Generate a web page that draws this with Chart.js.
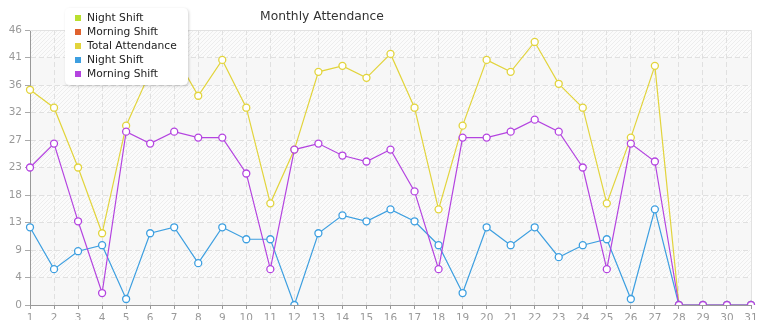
<!DOCTYPE html>
<html><head><meta charset="utf-8">
<script src="https://cdn.jsdelivr.net/npm/chart.js@4/dist/chart.umd.min.js"></script>
<style>html,body{margin:0;padding:0;background:#fff}#wrap{width:765px;height:320px;position:relative;overflow:hidden}</style>
</head><body><div id="wrap"><canvas id="c" width="765" height="320"></canvas></div>
<script>
const days = ['1','2','3','4','5','6','7','8','9','10','11','12','13','14','15','16','17','18','19','20','21','22','23','24','25','26','27','28','29','30','31'];
const nightShift = [13,6,9,10,1,12,13,7,13,11,11,0,12,15,14,16,14,10,2,13,10,13,8,10,11,1,16,0,0,0,0];
const morningShift = [23,27,14,2,29,27,29,28,28,22,6,26,27,25,24,26,19,6,28,28,29,31,29,23,6,27,24,0,0,0,0];
const totalAttendance = [36,33,23,12,30,39,42,35,41,33,17,26,39,40,38,42,33,16,30,41,39,44,37,33,17,28,40,0,0,0,0];
const yTickLabels = ['0','4','9','13','18','23','27','32','36','41','46'];
const chartTitle = 'Monthly Attendance';

const FONT = '"DejaVu Sans", Verdana, sans-serif';

function makeHatch(ctx){
  const p = document.createElement('canvas');
  p.width = 4; p.height = 4;
  const g = p.getContext('2d');
  g.fillStyle = '#fbfbfb'; g.fillRect(0,0,4,4);
  g.strokeStyle = '#ededed'; g.lineWidth = 1;
  g.beginPath(); g.moveTo(-1,5); g.lineTo(5,-1); g.stroke();
  g.beginPath(); g.moveTo(-1,1); g.lineTo(1,-1); g.stroke();
  g.beginPath(); g.moveTo(3,5); g.lineTo(5,3); g.stroke();
  return ctx.createPattern(p,'repeat');
}

const bgPlugin = {
  id:'bg',
  beforeDraw(chart){
    const {ctx, chartArea:a, scales:{y}} = chart;
    const hatch = makeHatch(ctx);
    const ticks = y.ticks;
    ctx.save();
    for(let i=0;i<ticks.length-1;i++){
      const y0 = y.getPixelForValue(ticks[i].value);
      const y1 = y.getPixelForValue(ticks[i+1].value);
      ctx.fillStyle = (i%2===1) ? hatch : '#f7f7f7';
      ctx.fillRect(a.left, y1, a.right-a.left, y0-y1);
    }
    ctx.restore();
  },
  beforeDatasetsDraw(chart){
    const {ctx, chartArea:a} = chart;
    ctx.save();
    ctx.strokeStyle = '#e2e2e2'; ctx.lineWidth = 1;
    ctx.beginPath();
    ctx.moveTo(a.left, a.top+0.5); ctx.lineTo(a.right+0.5, a.top+0.5); ctx.lineTo(a.right+0.5, a.bottom);
    ctx.stroke();
    ctx.restore();
  },
  afterDraw(chart){
    const ctx = chart.ctx;
    ctx.save();
    ctx.fillStyle = '#333';
    ctx.font = '12.3px ' + FONT;
    ctx.textAlign = 'center'; ctx.textBaseline = 'middle';
    ctx.fillText(chartTitle, 322, 17);
    const bx=65, by=8, bw=123, bh=77, r=5;
    ctx.shadowColor = 'rgba(0,0,0,0.18)'; ctx.shadowBlur = 3; ctx.shadowOffsetX = 1; ctx.shadowOffsetY = 1;
    ctx.fillStyle = '#fff';
    ctx.beginPath();
    ctx.moveTo(bx+r,by); ctx.lineTo(bx+bw-r,by); ctx.quadraticCurveTo(bx+bw,by,bx+bw,by+r);
    ctx.lineTo(bx+bw,by+bh-r); ctx.quadraticCurveTo(bx+bw,by+bh,bx+bw-r,by+bh);
    ctx.lineTo(bx+r,by+bh); ctx.quadraticCurveTo(bx,by+bh,bx,by+bh-r);
    ctx.lineTo(bx,by+r); ctx.quadraticCurveTo(bx,by,bx+r,by); ctx.closePath();
    ctx.fill();
    ctx.shadowColor = 'transparent'; ctx.shadowBlur = 0; ctx.shadowOffsetX = 0; ctx.shadowOffsetY = 0;
    ctx.font = '10.7px ' + FONT;
    ctx.textAlign = 'left'; ctx.textBaseline = 'middle';
    chart.data.datasets.forEach((ds,i)=>{
      const cy = 18 + i*14;
      ctx.fillStyle = ds.legendColor;
      ctx.fillRect(75, cy-3, 6, 6);
      ctx.fillStyle = '#222';
      ctx.fillText(ds.label, 87, cy);
    });
    ctx.restore();
  }
};

const lineDs = (label, data, color, order) => ({
  label, data, legendColor: color, order,
  borderColor: color, backgroundColor: color,
  borderWidth: 1.2, tension: 0,
  pointRadius: 3.5, pointHoverRadius: 3.5,
  pointBackgroundColor: '#fff', pointBorderColor: color, pointBorderWidth: 1.3,
  fill: false
});

new Chart(document.getElementById('c'), {
  type: 'line',
  data: {
    labels: days,
    datasets: [
      lineDs('Night Shift', [], '#b9df2e', 4),
      lineDs('Morning Shift', [], '#e0622e', 3),
      lineDs('Total Attendance', totalAttendance, '#e2d43c', 2),
      lineDs('Night Shift', nightShift, '#3d9fe0', 1),
      lineDs('Morning Shift', morningShift, '#b444e0', 0)
    ]
  },
  options: {
    responsive: false, animation: false, devicePixelRatio: 1,
    layout: { padding: { top: 30, right: 14, left: 0, bottom: 0 } },
    plugins: { legend: { display: false }, title: { display: false }, tooltip: { enabled: false } },
    scales: {
      x: {
        offset: false,
        grid: {
          color: (c) => (c.index === 0 || c.index === days.length-1) ? 'rgba(0,0,0,0)' : '#e0e0e0',
          lineWidth: 1, tickLength: 4, tickColor: '#999', drawOnChartArea: true
        },
        border: { display: true, color: '#999', width: 1, dash: [5,3] },
        ticks: { color: '#999', font: { family: FONT, size: 10.5 }, padding: 3, maxRotation: 0, autoSkip: false },
        afterFit: (s) => { s.height = 15; s.paddingLeft = 0; s.paddingRight = 0; }
      },
      y: {
        min: 0, max: 46,
        grid: {
          color: (c) => (c.index === 0 || c.index === yTickLabels.length-1) ? 'rgba(0,0,0,0)' : '#e0e0e0',
          lineWidth: 1, tickLength: 5, tickColor: '#aaa'
        },
        border: { display: true, color: '#999', width: 1, dash: [5,3] },
        ticks: {
          stepSize: 4.6, color: '#999', font: { family: FONT, size: 10.5 }, padding: 3,
          callback: (v, i) => yTickLabels[i]
        },
        afterFit: (s) => { s.width = 30; }
      }
    }
  },
  plugins: [bgPlugin]
});
</script>
</body></html>
